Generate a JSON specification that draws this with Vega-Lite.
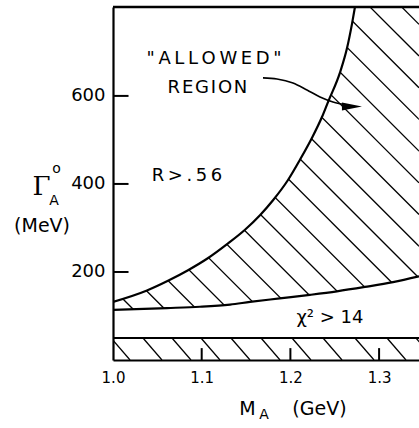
{
  "$schema": "https://vega.github.io/schema/vega-lite/v6.json",
  "width": 306,
  "height": 353,
  "autosize": {"type": "none"},
  "padding": {"left": 113, "top": 7, "right": 0, "bottom": 68},
  "background": "white",
  "config": {"view": {"stroke": null}, "font": "DejaVu Sans"},
  "datasets": {
    "hatch": [
      {"x": 1.0, "y": 161.4, "x2": 1.345, "y2": -534.1},
      {"x": 1.0, "y": 233.4, "x2": 1.345, "y2": -462.0},
      {"x": 1.0, "y": 305.5, "x2": 1.345, "y2": -390.0},
      {"x": 1.0, "y": 377.5, "x2": 1.345, "y2": -318.0},
      {"x": 1.0, "y": 449.5, "x2": 1.345, "y2": -245.9},
      {"x": 1.0, "y": 521.6, "x2": 1.345, "y2": -173.9},
      {"x": 1.0, "y": 593.6, "x2": 1.345, "y2": -101.8},
      {"x": 1.0, "y": 665.7, "x2": 1.345, "y2": -29.8},
      {"x": 1.0, "y": 737.7, "x2": 1.345, "y2": 42.3},
      {"x": 1.0, "y": 809.8, "x2": 1.345, "y2": 114.3},
      {"x": 1.0, "y": 881.8, "x2": 1.345, "y2": 186.4},
      {"x": 1.0, "y": 953.9, "x2": 1.345, "y2": 258.4},
      {"x": 1.0, "y": 1025.9, "x2": 1.345, "y2": 330.5},
      {"x": 1.0, "y": 1098.0, "x2": 1.345, "y2": 402.5},
      {"x": 1.0, "y": 1170.0, "x2": 1.345, "y2": 474.5},
      {"x": 1.0, "y": 1242.0, "x2": 1.345, "y2": 546.6},
      {"x": 1.0, "y": 1314.1, "x2": 1.345, "y2": 618.6},
      {"x": 1.0, "y": 1386.1, "x2": 1.345, "y2": 690.7},
      {"x": 1.0, "y": 1458.2, "x2": 1.345, "y2": 762.7}
    ],
    "band": [
      {"x": 0.9977, "y": 50, "x2": 1.0192, "y2": 0},
      {"x": 1.0338, "y": 50, "x2": 1.0552, "y2": 0},
      {"x": 1.0665, "y": 50, "x2": 1.0879, "y2": 0},
      {"x": 1.0992, "y": 50, "x2": 1.1206, "y2": 0},
      {"x": 1.1330, "y": 50, "x2": 1.1545, "y2": 0},
      {"x": 1.1669, "y": 50, "x2": 1.1883, "y2": 0},
      {"x": 1.2018, "y": 50, "x2": 1.2232, "y2": 0},
      {"x": 1.2368, "y": 50, "x2": 1.2582, "y2": 0},
      {"x": 1.2728, "y": 50, "x2": 1.2943, "y2": 0},
      {"x": 1.3089, "y": 50, "x2": 1.3303, "y2": 0},
      {"x": 1.3416, "y": 50, "x2": 1.3630, "y2": 0}
    ],
    "upper": [
      {"x": 1.0, "y": 132}, {"x": 1.0383, "y": 158}, {"x": 1.062, "y": 180},
      {"x": 1.0846, "y": 204}, {"x": 1.106, "y": 230}, {"x": 1.1297, "y": 265},
      {"x": 1.1488, "y": 296}, {"x": 1.1657, "y": 329}, {"x": 1.1804, "y": 363},
      {"x": 1.1973, "y": 409}, {"x": 1.2108, "y": 455}, {"x": 1.2244, "y": 505},
      {"x": 1.2356, "y": 552}, {"x": 1.2424, "y": 586}, {"x": 1.2559, "y": 653},
      {"x": 1.2638, "y": 708}, {"x": 1.2694, "y": 763}, {"x": 1.2728, "y": 802}
    ],
    "lower": [
      {"x": 1.0, "y": 114}, {"x": 1.0609, "y": 118}, {"x": 1.098, "y": 121},
      {"x": 1.132, "y": 126}, {"x": 1.1545, "y": 132}, {"x": 1.188, "y": 140},
      {"x": 1.222, "y": 148}, {"x": 1.2525, "y": 156}, {"x": 1.284, "y": 166},
      {"x": 1.3157, "y": 177}, {"x": 1.345, "y": 190}
    ],
    "yticks": [
      {"x": 1.0, "x2": 1.0175, "y": 200},
      {"x": 1.0, "x2": 1.0175, "y": 400},
      {"x": 1.0, "x2": 1.0175, "y": 600}
    ],
    "xticks": [
      {"x": 1.1, "y": 0, "y2": 27},
      {"x": 1.2, "y": 0, "y2": 27},
      {"x": 1.3, "y": 0, "y2": 27}
    ],
    "arrow": [
      {"x": 1.1691, "y": 641}, {"x": 1.1849, "y": 638.6}, {"x": 1.2029, "y": 629.5},
      {"x": 1.2187, "y": 613.6}, {"x": 1.2334, "y": 597.7}, {"x": 1.2480, "y": 586.4},
      {"x": 1.2638, "y": 579.5}
    ],
    "head": [{"x": 1.2694, "y": 576}],
    "labels": [
      {"x": 1.1139, "y": 684, "text": "\"\u2009A\u2009L\u2009L\u2009O\u2009W\u2009E\u2009D\u2009\"", "role": "note"},
      {"x": 1.1065, "y": 618, "text": "R\u200aE\u200aG\u200aI\u200aO\u200aN", "role": "note"},
      {"x": 1.0834, "y": 418, "text": "R\u2009>\u2009.\u20095\u20096", "role": "note"},
      {"x": 1.2446, "y": 95.5, "text": "χ² > 14", "role": "note"},
      {"x": 0.9194, "y": 393, "text": "Γ", "role": "big"},
      {"x": 0.9335, "y": 362, "text": "A", "role": "small"},
      {"x": 0.9363, "y": 434, "text": "o", "role": "small"},
      {"x": 0.92, "y": 304.5, "text": "(MeV)", "role": "title"},
      {"x": 1.1516, "y": -110.2, "text": "M", "role": "title"},
      {"x": 1.1702, "y": -125, "text": "A", "role": "small"},
      {"x": 1.2328, "y": -110.2, "text": "(GeV)", "role": "title"}
    ]
  },
  "layer": [
    {
      "data": {"name": "hatch"},
      "mark": {"type": "rule", "clip": true, "color": "black", "strokeWidth": 1.3},
      "encoding": {
        "x": {"field": "x", "type": "quantitative",
          "scale": {"domain": [1.0, 1.345], "nice": false, "zero": false},
          "axis": {"values": [1.0, 1.1, 1.2, 1.3], "format": ".1f", "title": null, "grid": false,
            "labelFlush": false, "ticks": false,
            "domainColor": "black", "domainWidth": 2.2, "labelPadding": 10, "labelFontSize": 15,
            "labelColor": "black", "labelFont": "DejaVu Sans", "zindex": 2}},
        "y": {"field": "y", "type": "quantitative",
          "scale": {"domain": [0, 802], "nice": false, "zero": false},
          "axis": {"values": [200, 400, 600], "title": null, "grid": false,
            "labelFlush": false, "ticks": false,
            "domainColor": "black", "domainWidth": 2.2, "labelPadding": 8, "labelFontSize": 18,
            "labelColor": "black", "labelFont": "DejaVu Sans", "zindex": 2}},
        "x2": {"field": "x2"},
        "y2": {"field": "y2"}
      }
    },
    {
      "data": {"name": "upper"},
      "mark": {"type": "area", "clip": true, "color": "white", "interpolate": "monotone"},
      "encoding": {
        "x": {"field": "x", "type": "quantitative"},
        "y": {"field": "y", "type": "quantitative"},
        "y2": {"datum": 802}
      }
    },
    {
      "data": {"name": "lower"},
      "mark": {"type": "area", "clip": true, "color": "white", "interpolate": "monotone"},
      "encoding": {
        "x": {"field": "x", "type": "quantitative"},
        "y": {"field": "y", "type": "quantitative"},
        "y2": {"datum": 0}
      }
    },
    {
      "data": {"name": "band"},
      "mark": {"type": "rule", "clip": true, "color": "black", "strokeWidth": 1.3},
      "encoding": {
        "x": {"field": "x", "type": "quantitative"},
        "y": {"field": "y", "type": "quantitative"},
        "x2": {"field": "x2"},
        "y2": {"field": "y2"}
      }
    },
    {
      "data": {"name": "yticks"},
      "mark": {"type": "rule", "color": "black", "strokeWidth": 2},
      "encoding": {
        "x": {"field": "x", "type": "quantitative"},
        "x2": {"field": "x2"},
        "y": {"field": "y", "type": "quantitative"}
      }
    },
    {
      "data": {"name": "xticks"},
      "mark": {"type": "rule", "color": "black", "strokeWidth": 2},
      "encoding": {
        "x": {"field": "x", "type": "quantitative"},
        "y": {"field": "y", "type": "quantitative"},
        "y2": {"field": "y2"}
      }
    },
    {
      "data": {"name": "upper"},
      "mark": {"type": "line", "clip": true, "color": "black", "strokeWidth": 2.2, "interpolate": "monotone"},
      "encoding": {
        "x": {"field": "x", "type": "quantitative"},
        "y": {"field": "y", "type": "quantitative"}
      }
    },
    {
      "data": {"name": "lower"},
      "mark": {"type": "line", "clip": true, "color": "black", "strokeWidth": 2.2, "interpolate": "monotone"},
      "encoding": {
        "x": {"field": "x", "type": "quantitative"},
        "y": {"field": "y", "type": "quantitative"}
      }
    },
    {
      "data": {"values": [{}]},
      "mark": {"type": "rule", "color": "black", "strokeWidth": 2.2},
      "encoding": {"y": {"datum": 50}}
    },
    {
      "data": {"values": [{}]},
      "mark": {"type": "rule", "color": "black", "strokeWidth": 2.4},
      "encoding": {"y": {"datum": 802}}
    },
    {
      "data": {"name": "arrow"},
      "mark": {"type": "line", "color": "black", "strokeWidth": 1.6, "interpolate": "monotone"},
      "encoding": {
        "x": {"field": "x", "type": "quantitative"},
        "y": {"field": "y", "type": "quantitative"}
      }
    },
    {
      "data": {"name": "head"},
      "mark": {"type": "point", "filled": true, "color": "black", "opacity": 1,
        "shape": "M-1,-0.4L1,0L-1,0.4Z", "size": 400},
      "encoding": {
        "x": {"field": "x", "type": "quantitative"},
        "y": {"field": "y", "type": "quantitative"}
      }
    },
    {
      "data": {"name": "labels"},
      "transform": [{"filter": "datum.role === 'note'"}],
      "mark": {"type": "text", "font": "DejaVu Sans", "fontSize": 18, "align": "center", "baseline": "middle", "color": "black"},
      "encoding": {
        "x": {"field": "x", "type": "quantitative"},
        "y": {"field": "y", "type": "quantitative"},
        "text": {"field": "text"}
      }
    },
    {
      "data": {"name": "labels"},
      "transform": [{"filter": "datum.role === 'title'"}],
      "mark": {"type": "text", "font": "DejaVu Sans", "fontSize": 19, "align": "center", "baseline": "middle", "color": "black"},
      "encoding": {
        "x": {"field": "x", "type": "quantitative"},
        "y": {"field": "y", "type": "quantitative"},
        "text": {"field": "text"}
      }
    },
    {
      "data": {"name": "labels"},
      "transform": [{"filter": "datum.role === 'big'"}],
      "mark": {"type": "text", "font": "DejaVu Serif", "fontSize": 26, "align": "center", "baseline": "middle", "color": "black"},
      "encoding": {
        "x": {"field": "x", "type": "quantitative"},
        "y": {"field": "y", "type": "quantitative"},
        "text": {"field": "text"}
      }
    },
    {
      "data": {"name": "labels"},
      "transform": [{"filter": "datum.role === 'small'"}],
      "mark": {"type": "text", "font": "DejaVu Sans", "fontSize": 14, "align": "center", "baseline": "middle", "color": "black"},
      "encoding": {
        "x": {"field": "x", "type": "quantitative"},
        "y": {"field": "y", "type": "quantitative"},
        "text": {"field": "text"}
      }
    }
  ]
}
